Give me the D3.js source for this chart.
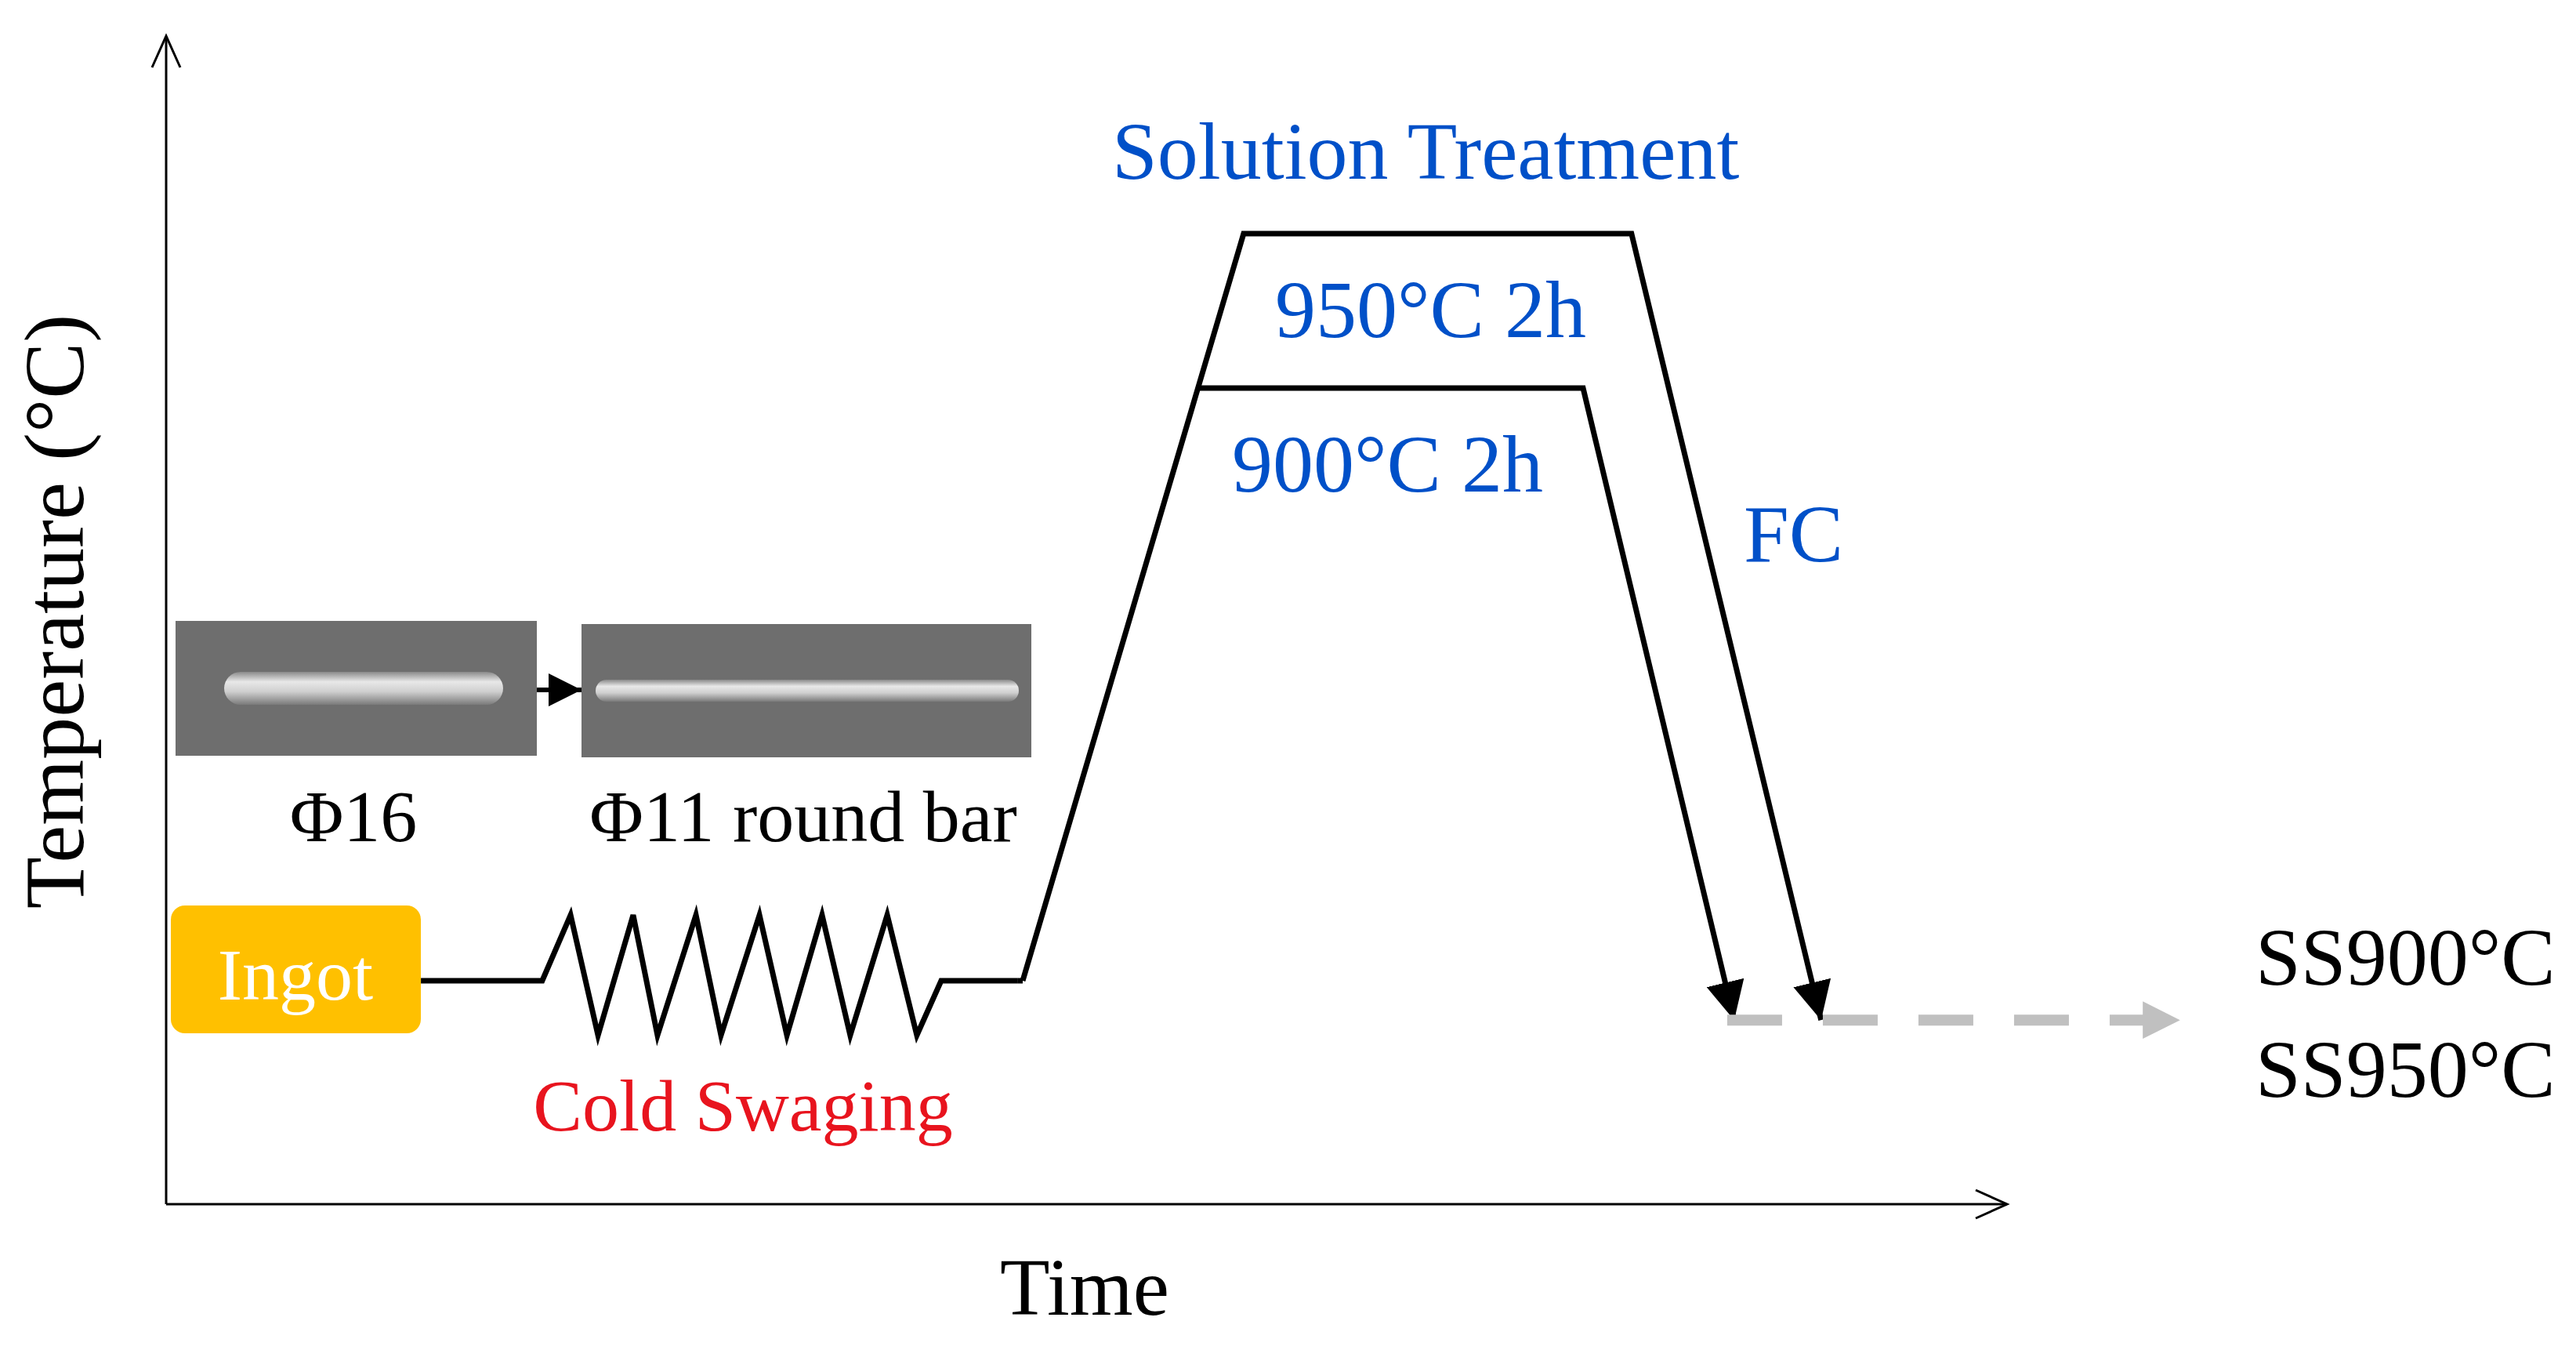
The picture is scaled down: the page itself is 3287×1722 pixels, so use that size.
<!DOCTYPE html>
<html><head><meta charset="utf-8">
<script src="https://cdn.jsdelivr.net/npm/d3@7"></script>
<style>body{margin:0;background:#fff}svg{display:block}</style>
</head><body><svg id="c" width="3287" height="1722"></svg>
<script>
// schematic data (time units, temperature units)
const swagingPath = [[13.84,25],[20.43,25],[21.97,122],[23.46,18.9],[25.37,122],[26.69,18.9],[28.78,122],[30.14,18.9],[32.23,122],[33.72,18.9],[35.63,122],[37.16,18.9],[39.17,122],[40.78,18.9],[42.1,25],[46.27,25]];
const route950 = [[46.53,25],[58.53,950],[79.6,950],[89.9,20.6]];
const route900 = [[56.1,900],[76.97,900],[85.18,20.6]];
const dashed = [[84.8,20.6],[109.4,20.6]];
const labels = {xTitle:"Time", yTitle:"Temperature (°C)", title:"Solution Treatment",
  t950:"950°C 2h", t900:"900°C 2h", fc:"FC", ss900:"SS900°C", ss950:"SS950°C",
  ingot:"Ingot", swag:"Cold Swaging", p16:"\u03a616", p11:"\u03a611 round bar"};

const svg = d3.select("#c");
const x = d3.scaleLinear().domain([0,100]).range([212,2561]);
const y = d3.scaleLinear().domain([0,25,900,950,1000]).range([1536,1251,495,298,100]);
const line = d3.line().x(d=>x(d[0])).y(d=>y(d[1]));
const serif = "'Liberation Serif','Times New Roman',serif";
const blue = "#0050C8";

const defs = svg.append("defs");
defs.append("marker").attr("id","ah").attr("viewBox","0 0 10 10").attr("refX",10).attr("refY",5)
  .attr("markerWidth",7).attr("markerHeight",7).attr("markerUnits","strokeWidth").attr("orient","auto")
  .append("path").attr("d","M0,0L10,5L0,10z").attr("fill","#000");
defs.append("marker").attr("id","ag").attr("viewBox","0 0 10 10").attr("refX",10).attr("refY",5)
  .attr("markerWidth",3.4).attr("markerHeight",3.4).attr("markerUnits","strokeWidth").attr("orient","auto")
  .append("path").attr("d","M0,0L10,5L0,10z").attr("fill","#c0c0c0");
const g1 = defs.append("linearGradient").attr("id","bar").attr("x1",0).attr("y1",0).attr("x2",0).attr("y2",1);
[["0","#8a8a8a"],["0.3","#e8e8e8"],["0.6","#cfcfcf"],["1","#7a7a7a"]].forEach(s=>g1.append("stop").attr("offset",s[0]).attr("stop-color",s[1]));

// axes
const ax = svg.append("g").attr("stroke","#000").attr("stroke-width",3).attr("fill","none");
ax.append("path").attr("d",`M${x(0)},${y(0)}V46`);
ax.append("path").attr("d",`M${x(0)-18},86L${x(0)},46L${x(0)+18},86`);
ax.append("path").attr("d",`M${x(0)},${y(0)}H2561`);
ax.append("path").attr("d",`M2521,${y(0)-18}L2561,${y(0)}L2521,${y(0)+18}`);

svg.append("text").attr("transform","translate(106,780) rotate(-90)").attr("text-anchor","middle")
  .attr("font-family",serif).attr("font-size",108).text(labels.yTitle);
svg.append("text").attr("x",1384).attr("y",1677).attr("text-anchor","middle")
  .attr("font-family",serif).attr("font-size",104).text(labels.xTitle);

// photos
function photo(x0,y0,w,h,bx0,bx1,bh){
  svg.append("rect").attr("x",x0).attr("y",y0).attr("width",w).attr("height",h).attr("fill","#6e6e6e");
  svg.append("rect").attr("x",bx0).attr("y",(y0+h/2)-bh/2).attr("width",bx1-bx0).attr("height",bh).attr("rx",bh/2).attr("fill","url(#bar)");
}
photo(224,792,461,172,286,642,42);
photo(742,796,574,170,760,1300,28);
svg.append("path").attr("d","M685,880H742").attr("stroke","#000").attr("stroke-width",6).attr("marker-end","url(#ah)");
svg.append("text").attr("x",451).attr("y",1073).attr("text-anchor","middle").attr("font-family",serif).attr("font-size",94).text(labels.p16);
svg.append("text").attr("x",1025).attr("y",1073).attr("text-anchor","middle").attr("font-family",serif).attr("font-size",94).text(labels.p11);

// ingot
svg.append("rect").attr("x",218).attr("y",1155).attr("width",319).attr("height",163).attr("rx",18).attr("fill","#FFC000");
svg.append("text").attr("x",377).attr("y",1275).attr("text-anchor","middle").attr("font-family",serif).attr("font-size",94).attr("fill","#fff").text(labels.ingot);

// process lines
const pl = svg.append("g").attr("fill","none").attr("stroke","#000").attr("stroke-width",7).attr("stroke-linejoin","miter");
pl.append("path").attr("d",line(swagingPath));
pl.append("path").attr("d",line([swagingPath[swagingPath.length-1],route950[0]]));
pl.append("path").attr("d",line(route950)).attr("marker-end","url(#ah)");
pl.append("path").attr("d",line(route900)).attr("marker-end","url(#ah)");
svg.append("path").attr("d",line(dashed)).attr("fill","none").attr("stroke","#c0c0c0").attr("stroke-width",14)
  .attr("stroke-dasharray","70 52").attr("marker-end","url(#ag)");

svg.append("text").attr("x",948).attr("y",1442).attr("text-anchor","middle").attr("font-family",serif).attr("font-size",94).attr("fill","#E8141E").text(labels.swag);

const bt = (t,xx,yy)=>svg.append("text").attr("x",xx).attr("y",yy).attr("font-family",serif).attr("font-size",104).attr("fill",blue).text(t);
bt(labels.title,1419,228);
bt(labels.t950,1627,430);
bt(labels.t900,1572,627);
bt(labels.fc,2225,716);
svg.append("text").attr("x",2878).attr("y",1256).attr("font-family",serif).attr("font-size",104).text(labels.ss900);
svg.append("text").attr("x",2878).attr("y",1399).attr("font-family",serif).attr("font-size",104).text(labels.ss950);
</script></body></html>
